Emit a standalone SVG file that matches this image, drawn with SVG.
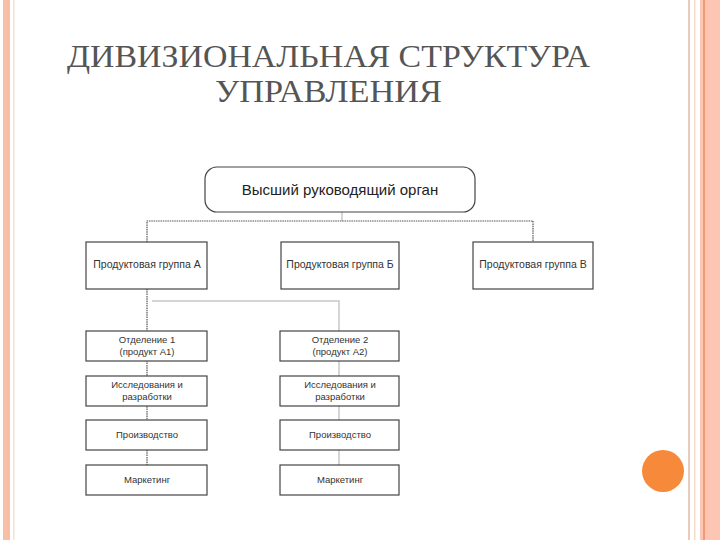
<svg xmlns="http://www.w3.org/2000/svg" width="720" height="540" viewBox="0 0 720 540">
<style>
.title{font-family:"Liberation Serif","Times New Roman",serif;font-size:31px;fill:#555}
.box{fill:#fff;stroke:#444;stroke-width:1.2}
.t{font-family:"Liberation Sans",Arial,sans-serif;font-size:9.5px;fill:#333;text-anchor:middle}
.tg{font-size:10.5px}
.tt{font-size:15px;fill:#222}
.dk{stroke:#555;stroke-width:1.2;fill:none;stroke-dasharray:1.5 0.8}
.lt{stroke:#c8c8c8;stroke-width:1.5;fill:none}
</style>
<rect width="720" height="540" fill="#fff"/>
<g id="border">
<rect x="3" y="0" width="7" height="540" fill="#f9bea6"/>
<rect x="13" y="0" width="1.5" height="540" fill="#f2e2da"/>
<rect x="688" y="0" width="2" height="540" fill="#e8cbbb"/>
<rect x="694" y="0" width="1.5" height="540" fill="#f3dccc"/>
<rect x="700" y="0" width="20" height="540" fill="#fcc6b2"/>
<rect x="703" y="0" width="2" height="540" fill="#f09a7c"/>
</g>
<g id="title">
<text class="title" x="67" y="67" textLength="523" lengthAdjust="spacingAndGlyphs">ДИВИЗИОНАЛЬНАЯ СТРУКТУРА</text>
<text class="title" x="215" y="102" textLength="227" lengthAdjust="spacingAndGlyphs">УПРАВЛЕНИЯ</text>
</g>
<g id="connectors">
<path class="lt" d="M342 212V221"/>
<path class="dk" d="M147 242V221H533V242"/>
<path class="dk" d="M147 289V465"/>
<path class="lt" d="M152 301H339V465"/>
</g>
<g id="top">
<rect class="box" x="205" y="167" width="270" height="45" rx="12"/>
<text class="t tt" x="340" y="195">Высший руководящий орган</text>
</g>
<g id="groupA">
<rect class="box" x="86" y="242" width="121" height="47"/>
<text class="t tg" x="147" y="268">Продуктовая группа А</text>
</g>
<g id="groupB">
<rect class="box" x="281" y="242" width="118" height="47"/>
<text class="t tg" x="340" y="268">Продуктовая группа Б</text>
</g>
<g id="groupV">
<rect class="box" x="473" y="242" width="120" height="47"/>
<text class="t tg" x="533" y="268">Продуктовая группа В</text>
</g>
<g id="div1">
<rect class="box" x="86" y="331" width="121" height="30"/>
<text class="t" x="147" y="343">Отделение 1</text>
<text class="t" x="147" y="355">(продукт А1)</text>
</g>
<g id="rd1">
<rect class="box" x="86" y="376" width="121" height="30"/>
<text class="t" x="147" y="388">Исследования и</text>
<text class="t" x="147" y="400">разработки</text>
</g>
<g id="prod1">
<rect class="box" x="86" y="420" width="121" height="30"/>
<text class="t" x="147" y="438">Производство</text>
</g>
<g id="mkt1">
<rect class="box" x="86" y="465" width="121" height="30"/>
<text class="t" x="147" y="483">Маркетинг</text>
</g>
<g id="div2">
<rect class="box" x="280" y="331" width="119" height="30"/>
<text class="t" x="340" y="343">Отделение 2</text>
<text class="t" x="340" y="355">(продукт А2)</text>
</g>
<g id="rd2">
<rect class="box" x="280" y="376" width="119" height="30"/>
<text class="t" x="340" y="388">Исследования и</text>
<text class="t" x="340" y="400">разработки</text>
</g>
<g id="prod2">
<rect class="box" x="280" y="420" width="119" height="30"/>
<text class="t" x="340" y="438">Производство</text>
</g>
<g id="mkt2">
<rect class="box" x="280" y="465" width="119" height="30"/>
<text class="t" x="340" y="483">Маркетинг</text>
</g>
<circle cx="663" cy="471" r="21" fill="#f7893a"/>
</svg>
